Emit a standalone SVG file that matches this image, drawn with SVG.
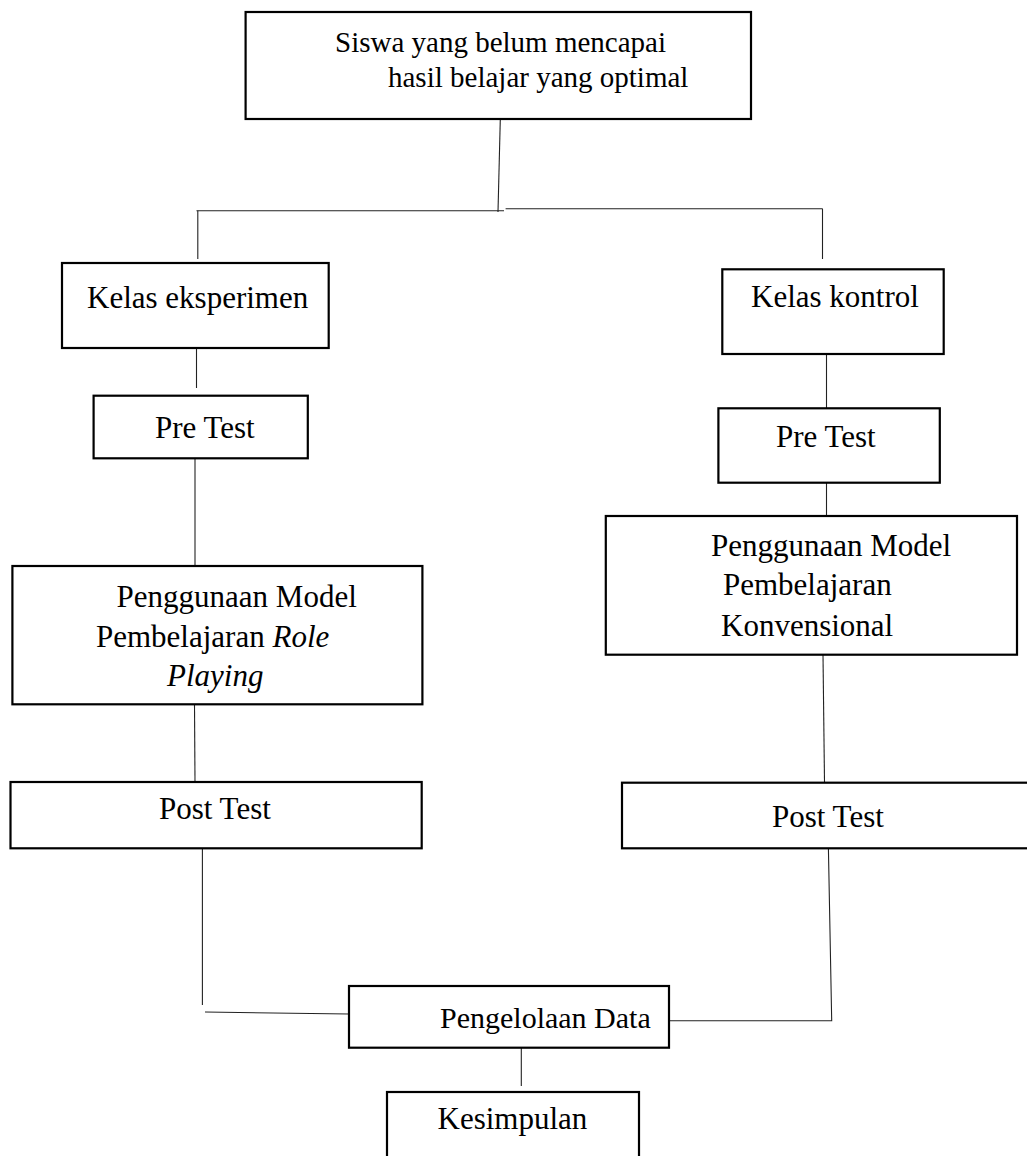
<svg xmlns="http://www.w3.org/2000/svg" width="1027" height="1156" viewBox="0 0 1027 1156">
<style>
.box{fill:#fff;stroke:#000;stroke-width:2.2}
.t{font-family:"Liberation Serif","Times New Roman",serif;font-size:31px;fill:#000}
.i{font-style:italic}
#connectors line,#connectors polyline{stroke:#222;stroke-width:1.1;fill:none}
</style>
<rect width="1027" height="1156" fill="#fff"/>
<g id="connectors">
<line x1="500.3" y1="119" x2="498" y2="212"/>
<line x1="196.5" y1="210.7" x2="504" y2="210.7"/>
<line x1="505.6" y1="208.7" x2="822.5" y2="208.7"/>
<line x1="197.8" y1="210.7" x2="197.8" y2="259"/>
<line x1="822.5" y1="208.7" x2="822.5" y2="259"/>
<line x1="196.5" y1="348" x2="196.5" y2="388"/>
<line x1="195" y1="458" x2="195" y2="566"/>
<line x1="194.5" y1="704" x2="195" y2="782"/>
<line x1="202.4" y1="848" x2="202.4" y2="1005"/>
<line x1="205" y1="1012" x2="349" y2="1014"/>
<line x1="826.5" y1="354" x2="826.5" y2="408"/>
<line x1="826.5" y1="483" x2="826.5" y2="516"/>
<line x1="823" y1="655" x2="824.5" y2="782"/>
<polyline points="828.4,848 831.7,1020.7 669,1020.7"/>
<line x1="521.3" y1="1048" x2="521.3" y2="1086"/>
</g>
<g id="n-top">
<rect class="box" x="245.6" y="12" width="505.4" height="107"/>
<text class="t" x="335" y="52" style="font-size:29px">Siswa yang belum mencapai</text>
<text class="t" x="388" y="87" style="font-size:29px">hasil belajar yang optimal</text>
</g>
<g id="n-eksperimen">
<rect class="box" x="62" y="263" width="266.7" height="85"/>
<text class="t" x="87" y="308">Kelas eksperimen</text>
</g>
<g id="n-kontrol">
<rect class="box" x="722.3" y="269.3" width="221.4" height="84.7"/>
<text class="t" x="751" y="306.7">Kelas kontrol</text>
</g>
<g id="n-pretest-l">
<rect class="box" x="93.6" y="395.7" width="214.2" height="62.6"/>
<text class="t" x="155" y="438">Pre Test</text>
</g>
<g id="n-pretest-r">
<rect class="box" x="718.4" y="408.3" width="221.4" height="74.4"/>
<text class="t" x="776" y="447.3">Pre Test</text>
</g>
<g id="n-model-l">
<rect class="box" x="12.4" y="566" width="410" height="138.3"/>
<text class="t" x="116.6" y="607.3">Penggunaan Model</text>
<text class="t" x="96" y="646.7">Pembelajaran <tspan class="i">Role</tspan></text>
<text class="t i" x="167" y="686">Playing</text>
</g>
<g id="n-model-r">
<rect class="box" x="605.8" y="516" width="411.2" height="138.7"/>
<text class="t" x="711" y="555.7">Penggunaan Model</text>
<text class="t" x="723" y="595">Pembelajaran</text>
<text class="t" x="721" y="636">Konvensional</text>
</g>
<g id="n-posttest-l">
<rect class="box" x="10.5" y="782" width="411.2" height="66.3"/>
<text class="t" x="159" y="819">Post Test</text>
</g>
<g id="n-posttest-r">
<rect class="box" x="622" y="782.7" width="410" height="65.6"/>
<text class="t" x="772" y="826.7">Post Test</text>
</g>
<g id="n-pengelolaan">
<rect class="box" x="349" y="986" width="320" height="61.7"/>
<text class="t" x="440" y="1027.7" style="font-size:30px">Pengelolaan Data</text>
</g>
<g id="n-kesimpulan">
<rect class="box" x="387" y="1092" width="252" height="80"/>
<text class="t" x="437.5" y="1129">Kesimpulan</text>
</g>
</svg>
